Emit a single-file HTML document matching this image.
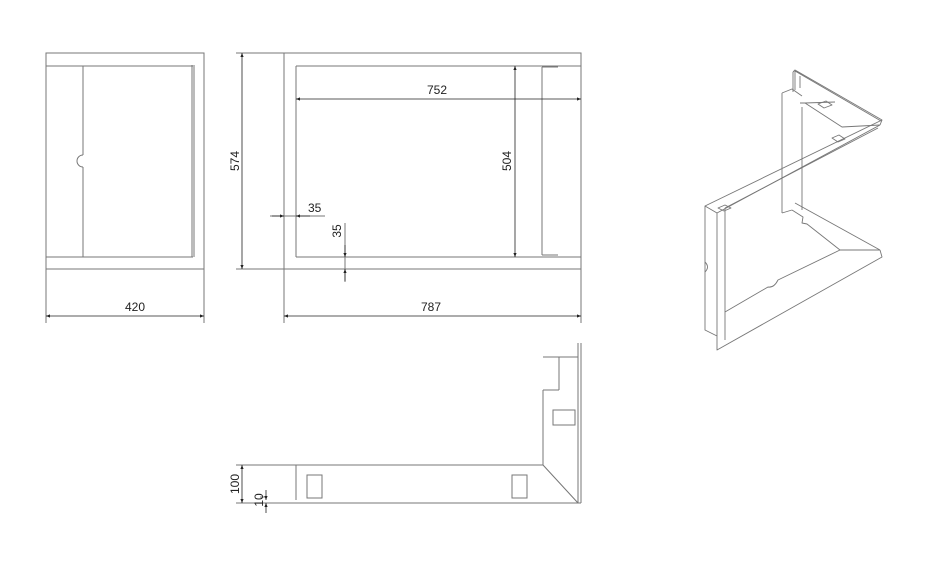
<!DOCTYPE html>
<html><head><meta charset="utf-8"><style>
html,body{margin:0;padding:0;background:#fff;}
svg{display:block;}
text{font-family:"Liberation Sans",sans-serif;font-size:12px;fill:#222;}
</style></head><body>
<svg width="928" height="565" viewBox="0 0 928 565" xmlns="http://www.w3.org/2000/svg">
<defs>
<marker id="a" viewBox="0 0 10 10" refX="10" refY="5" markerWidth="7" markerHeight="5" orient="auto-start-reverse"><path d="M0,1 L10,5 L0,9z" fill="#222"/></marker>
</defs>
<g fill="none" stroke="#777" stroke-width="1">
<!-- left view -->
<rect x="46" y="53" width="158" height="216"/>
<path d="M46 66H193M46 257H193M83 66V155M83 167V257M192 65V257M194 65V257"/>
<path d="M83 155A6 6 0 0 0 83 167"/>
<path d="M46 269V323M204 269V323"/>
<!-- middle view -->
<rect x="284" y="53" width="297" height="216"/>
<path d="M296 66H581M296 257H581M296 66V257M542 67V255M542 67H558M558 66H581M542 255H558M558 257H581"/>
<path d="M236 53H284M236 269H284M284 269V323M581 269V323M270 216H325M345 223V282"/>
<!-- bottom view -->
<path d="M578 343V503M581 343V503M236 465H543M236 503H581M296 465V500M543 465L578 503M543 357H578M559 357V390M543 390H559M543 390V465"/>
<rect x="307" y="475" width="15" height="23"/>
<rect x="512" y="475" width="15" height="23"/>
<rect x="553" y="410" width="22" height="15"/>
<path d="M260 497H266"/>
</g>
<!-- iso -->
<g fill="none" stroke="#777" stroke-width="0.9" stroke-linejoin="round">
<path d="M793 72L795 70L882 120L880 125M793 72V92M795 71L881 121"/>
<path d="M882 120L705 206L705 330L717 336M880 125L717 213V350L882 257L880 250"/>
<path d="M705 206L717 213M725 208L878 128M725 208V340"/>
<path d="M782 93L792 89L802 96M782 93V213M792 210L782 213M802 107V210"/>
<path d="M800 103L805 103L842 127L880 125M805 103L835 102"/>
<path d="M792 210L803 217L802 223L807 224L840 250L880 250M795 203L880 250M840 250L778 280Q774 288 768 287L725 312"/>
<path d="M800 76V88M795 71V90"/>
<path d="M818 104L826 101L832 105L824 108Z"/>
<path d="M832 138L839 135L845 139L838 142Z"/>
<path d="M718 208L725 205L731 208L724 211Z"/>
<path d="M705 262Q710 267 705 272"/>
</g>
<g stroke="#222" stroke-width="0.8" fill="none">
<path d="M46 316H204" marker-start="url(#a)" marker-end="url(#a)"/>
<path d="M284 316H581" marker-start="url(#a)" marker-end="url(#a)"/>
<path d="M296 99H581" marker-start="url(#a)" marker-end="url(#a)"/>
<path d="M515 66V257" marker-start="url(#a)" marker-end="url(#a)"/>
<path d="M242 53V269" marker-start="url(#a)" marker-end="url(#a)"/>
<path d="M272 216H284" marker-end="url(#a)"/>
<path d="M310 216H296" marker-end="url(#a)"/>
<path d="M345 245V257" marker-end="url(#a)"/>
<path d="M345 281V269" marker-end="url(#a)"/>
<path d="M242 465V503" marker-start="url(#a)" marker-end="url(#a)"/>
<path d="M266 490V500" marker-end="url(#a)"/>
<path d="M266 513V503" marker-end="url(#a)"/>
</g>
<text x="125" y="311">420</text>
<text x="421" y="311">787</text>
<text x="427" y="94">752</text>
<text x="308" y="212">35</text>
<text transform="translate(239,161) rotate(-90)" text-anchor="middle">574</text>
<text transform="translate(511,161) rotate(-90)" text-anchor="middle">504</text>
<text transform="translate(341,231) rotate(-90)" text-anchor="middle">35</text>
<text transform="translate(239,484) rotate(-90)" text-anchor="middle">100</text>
<text transform="translate(263,500) rotate(-90)" text-anchor="middle">10</text>
</svg>
</body></html>
